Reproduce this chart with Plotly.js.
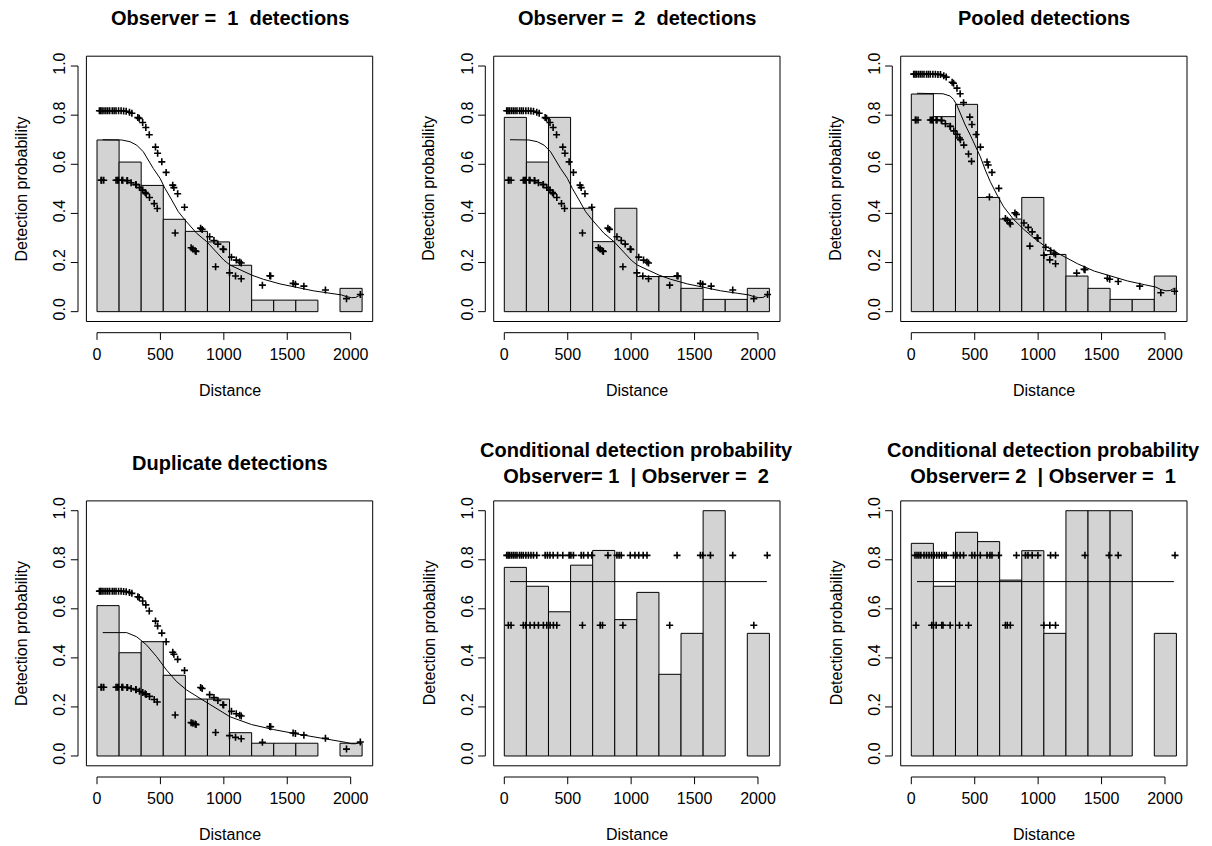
<!DOCTYPE html>
<html>
<head>
<meta charset="utf-8">
<script src="https://cdn.plot.ly/plotly-3.0.1.min.js"></script>
<style>html,body{margin:0;padding:0;background:#fff}#chart{width:1212px;height:846px}</style>
</head>
<body>
<div id="chart"></div>
<script>
// ---------------- DATA ----------------
const binBreaks = [0,174.2,348.3,522.5,696.7,870.8,1045,1219.2,1393.3,1567.5,1741.7,1915.8,2090];

const obs1Bars   = [0.699,0.609,0.514,0.376,0.327,0.284,0.189,0.047,0.047,0.047,0,0.095];
const obs2Bars   = [0.791,0.609,0.791,0.421,0.285,0.421,0.143,0.143,0.095,0.050,0.050,0.095];
const pooledBars = [0.886,0.794,0.844,0.465,0.377,0.465,0.233,0.145,0.095,0.050,0.050,0.145];
const dupBars    = [0.613,0.421,0.466,0.329,0.232,0.232,0.095,0.052,0.052,0.052,0,0.052];
const cond12Bars = [0.769,0.692,0.588,0.778,0.838,0.556,0.667,0.333,0.500,1.000,0,0.500];
const cond21Bars = [0.867,0.692,0.912,0.874,0.717,0.837,0.500,1.000,1.000,1.000,0,0.500];

// average detection lines
const obsLineX = [45,100,194,260,313,365,404,444,497,536,589,641,694,786,865,950,1000,1048,1127,1219,1311,1443,1574,1705,1837,1929,1968,2007,2040,2060,2080];
const obs1LineY = [0.700,0.700,0.699,0.692,0.678,0.651,0.617,0.583,0.543,0.502,0.455,0.407,0.373,0.319,0.285,0.235,0.210,0.190,0.170,0.149,0.132,0.113,0.099,0.085,0.075,0.068,0.061,0.057,0.058,0.064,0.066];
const obs2LineY = [0.700,0.700,0.699,0.692,0.678,0.651,0.617,0.583,0.543,0.502,0.455,0.407,0.373,0.319,0.285,0.235,0.210,0.190,0.170,0.149,0.132,0.113,0.099,0.085,0.075,0.068,0.061,0.057,0.058,0.064,0.066];
const pooledLineX = [45,150,250,306,333,359,385,425,465,504,544,583,623,676,728,807,887,966,1045,1130,1219,1311,1443,1574,1705,1837,1929,1968,2007,2040,2060,2080];
const pooledLineY = [0.889,0.889,0.887,0.878,0.864,0.841,0.807,0.760,0.719,0.678,0.631,0.577,0.529,0.475,0.427,0.375,0.335,0.300,0.270,0.245,0.220,0.195,0.165,0.145,0.125,0.110,0.100,0.090,0.085,0.086,0.092,0.094];
const dupLineX = [45,150,234,313,392,470,549,628,707,812,917,1048,1219,1390,1574,1744,1915,1968,2007,2040,2060,2080];
const dupLineY = [0.503,0.503,0.503,0.486,0.452,0.405,0.350,0.303,0.269,0.235,0.201,0.160,0.128,0.108,0.090,0.075,0.062,0.055,0.050,0.050,0.055,0.057];
const condLineX = [45,2070];
const cond12LineY = [0.711,0.711];
const cond21LineY = [0.711,0.711];

// fitted detection probabilities per observation (two covariate groups)
const grpADist = [19,29,40,55,70,85,100,120,135,150,170,190,210,230,256,275,322,333,360,385,412,461,478,511,545,597,606,636,690,817,829,888,922,953,993,998,1060,1098,1125,1137,1362,1369,1546,1564,1631,1801,2076];
const obs1A   = [0.818,0.818,0.818,0.818,0.818,0.818,0.818,0.818,0.818,0.818,0.818,0.818,0.817,0.816,0.812,0.808,0.790,0.787,0.770,0.750,0.720,0.670,0.645,0.610,0.567,0.515,0.505,0.480,0.425,0.340,0.335,0.305,0.290,0.275,0.255,0.253,0.222,0.210,0.202,0.198,0.146,0.145,0.115,0.112,0.104,0.088,0.070];
const obs2A   = [0.818,0.818,0.818,0.818,0.818,0.818,0.818,0.818,0.818,0.818,0.818,0.818,0.817,0.816,0.812,0.808,0.790,0.787,0.770,0.750,0.720,0.670,0.645,0.610,0.567,0.515,0.505,0.480,0.425,0.340,0.335,0.305,0.290,0.275,0.255,0.253,0.222,0.210,0.202,0.198,0.146,0.145,0.115,0.112,0.104,0.088,0.070];
const pooledA = [0.967,0.967,0.967,0.967,0.967,0.967,0.967,0.967,0.967,0.967,0.967,0.967,0.966,0.965,0.960,0.955,0.934,0.930,0.910,0.887,0.851,0.792,0.762,0.721,0.670,0.609,0.597,0.567,0.502,0.402,0.396,0.361,0.343,0.325,0.301,0.299,0.262,0.248,0.239,0.234,0.173,0.171,0.136,0.132,0.123,0.104,0.083];
const dupA    = [0.672,0.672,0.672,0.672,0.672,0.672,0.672,0.672,0.672,0.672,0.672,0.672,0.671,0.670,0.667,0.663,0.649,0.646,0.632,0.616,0.591,0.550,0.530,0.501,0.466,0.423,0.415,0.394,0.349,0.279,0.275,0.250,0.238,0.226,0.209,0.208,0.182,0.172,0.166,0.163,0.120,0.119,0.094,0.092,0.085,0.072,0.057];

const grpBDist = [32,37,53,150,161,169,196,203,237,240,269,306,308,335,361,380,387,414,451,475,616,742,756,774,781,935,1045,1092,1137,1304,1967];
const obs1B   = [0.535,0.535,0.535,0.535,0.535,0.535,0.535,0.535,0.534,0.533,0.525,0.518,0.517,0.505,0.495,0.485,0.480,0.465,0.440,0.420,0.320,0.260,0.255,0.248,0.245,0.183,0.158,0.145,0.134,0.108,0.053];
const obs2B   = [0.535,0.535,0.535,0.535,0.535,0.535,0.535,0.535,0.534,0.533,0.525,0.518,0.517,0.505,0.495,0.485,0.480,0.465,0.440,0.420,0.320,0.260,0.255,0.248,0.245,0.183,0.158,0.145,0.134,0.108,0.053];
const pooledB = [0.780,0.780,0.780,0.780,0.780,0.780,0.780,0.780,0.779,0.777,0.765,0.755,0.754,0.736,0.722,0.707,0.700,0.678,0.642,0.612,0.467,0.379,0.372,0.362,0.357,0.267,0.230,0.211,0.195,0.157,0.077];
const dupB    = [0.280,0.280,0.280,0.280,0.280,0.280,0.280,0.280,0.279,0.279,0.275,0.271,0.270,0.264,0.259,0.254,0.251,0.243,0.230,0.220,0.167,0.136,0.133,0.130,0.128,0.096,0.083,0.076,0.070,0.056,0.028];

// conditional detection: observations seen by the other observer
const cond12ADist = [19,30,40,55,70,85,100,120,135,150,170,190,210,230,256,322,340,360,385,420,461,511,525,545,606,625,660,690,817,888,905,922,993,1030,1060,1095,1125,1362,1546,1564,1625,1801,2073];
const cond12BDist = [32,53,150,169,203,237,269,308,335,361,387,414,616,756,774,935,1304,1967];
const cond12Levels = [0.818,0.533];
const cond21ADist = [29,45,60,75,100,120,140,160,180,200,220,240,260,275,333,360,385,412,478,500,544,597,620,636,689,829,900,920,953,998,1098,1137,1369,1559,1631,2079];
const cond21BDist = [37,161,175,196,240,250,306,380,451,742,757,781,1045,1092,1137];
const cond21Levels = [0.818,0.533];

const xTickVals = [0,500,1000,1500,2000];
const xTickText = ['0','500','1000','1500','2000'];
const yTickVals = [0,0.2,0.4,0.6,0.8,1.0];
const yTickText = ['0.0','0.2','0.4','0.6','0.8','1.0'];

const titles = [
  'Observer =  1  detections',
  'Observer =  2  detections',
  'Pooled detections',
  'Duplicate detections',
  'Conditional detection probability<br>Observer= 1  | Observer =  2',
  'Conditional detection probability<br>Observer= 2  | Observer =  1'
];
const xLabel = 'Distance';
const yLabel = 'Detection probability';

// ---------------- LAYOUT / DRAW ----------------
const W = 1212, H = 846;
const FONT = 'Liberation Sans, Arial, sans-serif';
const cols = [[86.4,372.7],[493.7,780.0],[900.7,1187.0]];
const rows = [[56.2,321.5],[500.9,765.8]];
const titleY = [18, 463.4];

const panels = [
  {bars: obs1Bars, lx: obsLineX, ly: obs1LineY, pts: [[grpADist, obs1A],[grpBDist, obs1B]]},
  {bars: obs2Bars, lx: obsLineX, ly: obs2LineY, pts: [[grpADist, obs2A],[grpBDist, obs2B]]},
  {bars: pooledBars, lx: pooledLineX, ly: pooledLineY, pts: [[grpADist, pooledA],[grpBDist, pooledB]]},
  {bars: dupBars, lx: dupLineX, ly: dupLineY, pts: [[grpADist, dupA],[grpBDist, dupB]]},
  {bars: cond12Bars, lx: condLineX, ly: cond12LineY, pts: [[cond12ADist, cond12ADist.map(() => cond12Levels[0])],[cond12BDist, cond12BDist.map(() => cond12Levels[1])]]},
  {bars: cond21Bars, lx: condLineX, ly: cond21LineY, pts: [[cond21ADist, cond21ADist.map(() => cond21Levels[0])],[cond21BDist, cond21BDist.map(() => cond21Levels[1])]]}
];

const centers = binBreaks.slice(0,-1).map((b,i) => (b + binBreaks[i+1]) / 2);
const widths = binBreaks.slice(0,-1).map((b,i) => binBreaks[i+1] - b);

const traces = [];
const shapes = [];
const annotations = [];
const layout = {
  width: W, height: H,
  margin: {l:0, r:0, t:0, b:0},
  paper_bgcolor: '#fff', plot_bgcolor: '#fff',
  showlegend: false,
  font: {family: FONT, color: '#000', size: 16},
  shapes: shapes, annotations: annotations
};

panels.forEach((p, i) => {
  const s = i === 0 ? '' : String(i + 1);
  const col = cols[i % 3], row = rows[Math.floor(i / 3)];
  const xa = 'x' + s, ya = 'y' + s;

  layout['xaxis' + s] = {
    domain: [col[0] / W, col[1] / W], anchor: ya,
    range: [-83.6, 2173.6], fixedrange: true,
    showgrid: false, zeroline: false, showline: false, ticks: '',
    tickmode: 'array', tickvals: xTickVals, ticktext: xTickText,
    tickfont: {family: FONT, size: 16, color: '#000'},
    ticklabelstandoff: 21
  };
  layout['yaxis' + s] = {
    domain: [1 - row[1] / H, 1 - row[0] / H], anchor: xa,
    range: [-0.04, 1.04], fixedrange: true,
    showgrid: false, zeroline: false, showline: false, ticks: '',
    tickmode: 'array', tickvals: yTickVals, ticktext: yTickText,
    tickangle: -90,
    tickfont: {family: FONT, size: 16, color: '#000'},
    ticklabelstandoff: 17
  };

  traces.push({
    type: 'bar', x: centers, y: p.bars.map(v => v === 0 ? null : v), width: widths,
    xaxis: xa, yaxis: ya,
    marker: {color: '#d3d3d3', line: {color: '#000', width: 1}},
    hoverinfo: 'skip'
  });
  traces.push({
    type: 'scatter', mode: 'lines', x: p.lx, y: p.ly, xaxis: xa, yaxis: ya,
    line: {color: '#000', width: 1}, hoverinfo: 'skip'
  });
  p.pts.forEach(([px, py]) => {
    traces.push({
      type: 'scatter', mode: 'markers', x: px, y: py, xaxis: xa, yaxis: ya,
      marker: {symbol: 'cross-thin', size: 5, color: '#000', line: {color: '#000', width: 1.6}},
      hoverinfo: 'skip'
    });
  });

  // plot box
  shapes.push({type: 'rect', xref: xa + ' domain', yref: ya + ' domain', x0: 0, x1: 1, y0: 0, y1: 1,
    line: {color: '#000', width: 1}, layer: 'above'});
  // R-style x axis line and ticks
  shapes.push({type: 'line', xref: xa, x0: xTickVals[0], x1: xTickVals[xTickVals.length - 1],
    yref: ya + ' domain', ysizemode: 'pixel', yanchor: 0, y0: -11.2, y1: -11.2,
    line: {color: '#000', width: 1}});
  xTickVals.forEach(t => shapes.push({type: 'line', xref: xa, x0: t, x1: t,
    yref: ya + ' domain', ysizemode: 'pixel', yanchor: 0, y0: -11.2, y1: -18.4,
    line: {color: '#000', width: 1}}));
  // R-style y axis line and ticks
  shapes.push({type: 'line', yref: ya, y0: yTickVals[0], y1: yTickVals[yTickVals.length - 1],
    xref: xa + ' domain', xsizemode: 'pixel', xanchor: 0, x0: -8.4, x1: -8.4,
    line: {color: '#000', width: 1}});
  yTickVals.forEach(t => shapes.push({type: 'line', yref: ya, y0: t, y1: t,
    xref: xa + ' domain', xsizemode: 'pixel', xanchor: 0, x0: -8.4, x1: -15.6,
    line: {color: '#000', width: 1}}));

  const cx = (col[0] + col[1]) / 2, cy = (row[0] + row[1]) / 2;
  annotations.push({text: titles[i], xref: 'paper', yref: 'paper',
    x: cx / W, y: 1 - titleY[Math.floor(i / 3)] / H, xanchor: 'center', yanchor: 'middle',
    showarrow: false, font: {family: FONT, size: 20, color: '#000', weight: 'bold'}});
  annotations.push({text: xLabel, xref: 'paper', yref: 'paper',
    x: cx / W, y: 1 - (row[1] + 68.5) / H, xanchor: 'center', yanchor: 'middle',
    showarrow: false, font: {family: FONT, size: 16, color: '#000'}});
  annotations.push({text: yLabel, xref: 'paper', yref: 'paper', textangle: -90,
    x: (col[0] - 64.7) / W, y: 1 - cy / H, xanchor: 'center', yanchor: 'middle',
    showarrow: false, font: {family: FONT, size: 16, color: '#000'}});
});

Plotly.newPlot('chart', traces, layout, {displayModeBar: false, staticPlot: true});
</script>
</body>
</html>
